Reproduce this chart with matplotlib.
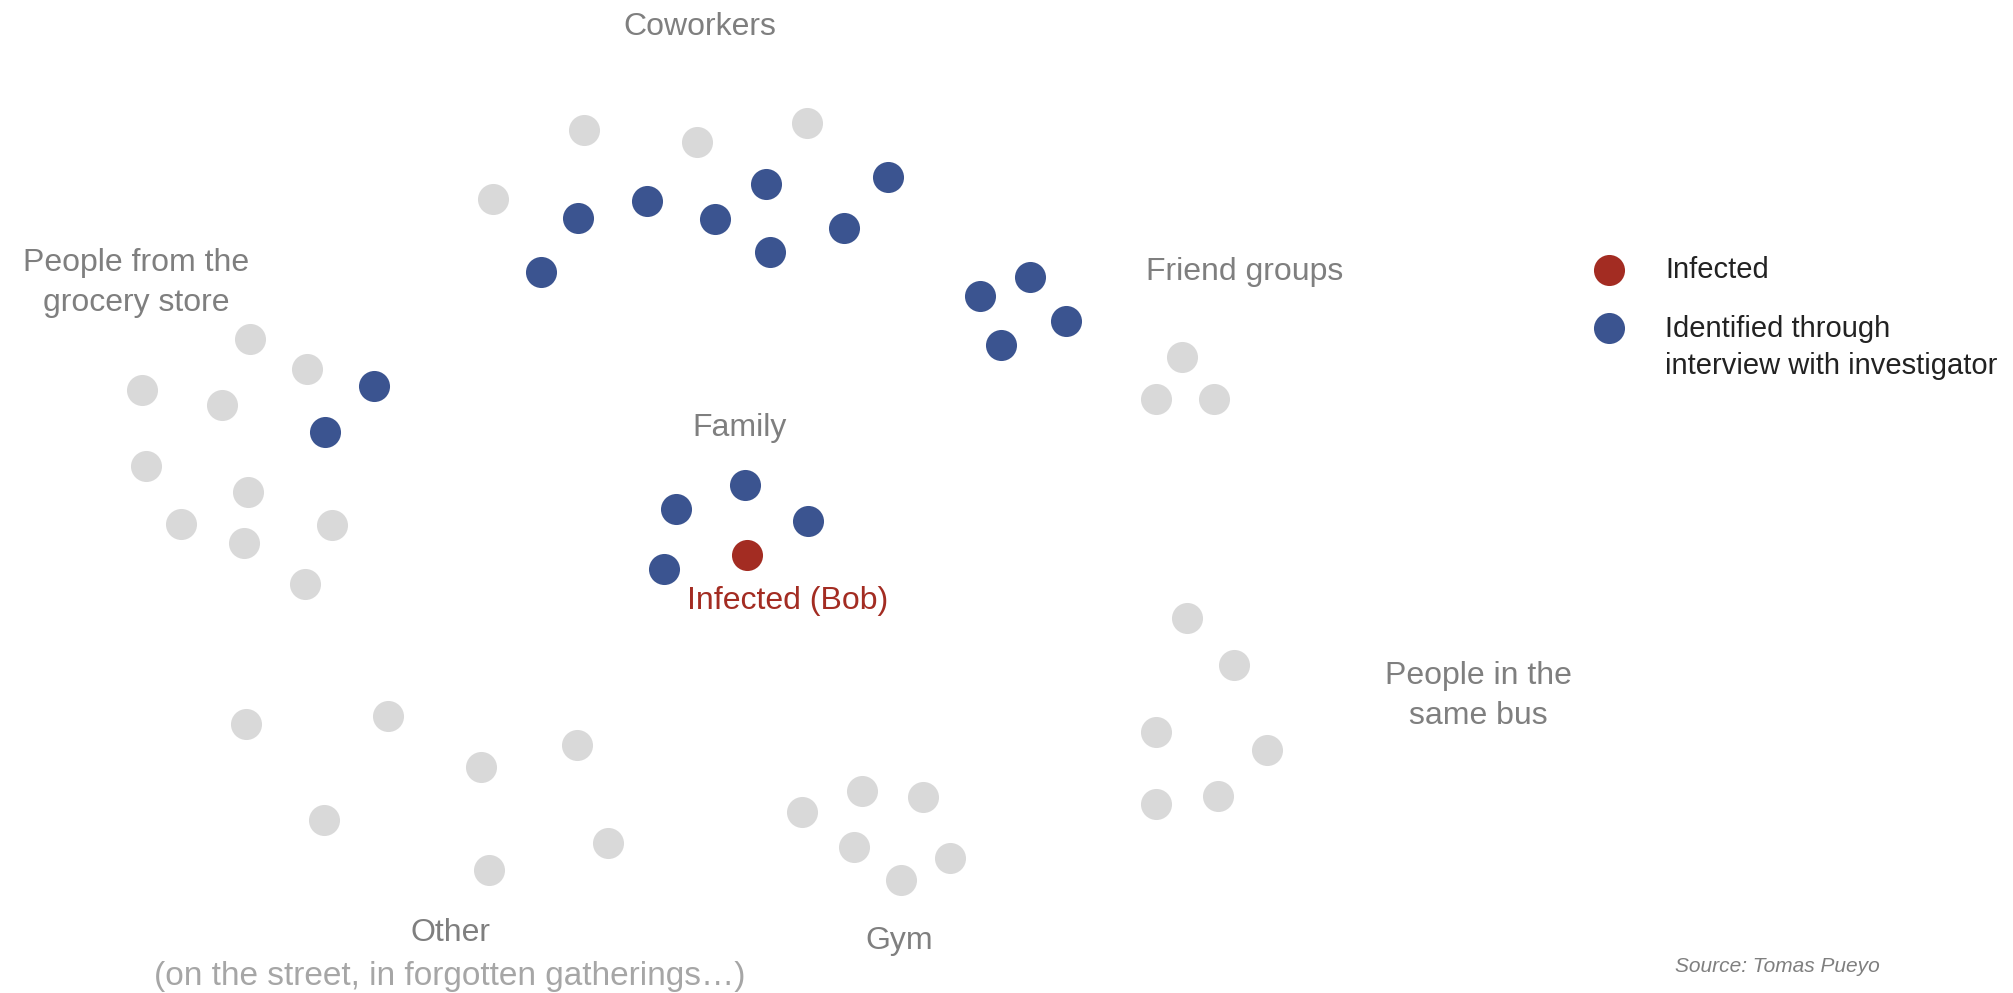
import matplotlib
matplotlib.use("Agg")
import matplotlib.pyplot as plt

# ---- data (positions of people, in picture units) ----
coworkers_gray_x = [584, 697, 807, 493]
coworkers_gray_y = [130, 142, 123, 199]
coworkers_blue_x = [578, 647, 715, 766, 888, 844, 770, 541]
coworkers_blue_y = [218, 201, 219, 184, 177, 228, 252, 272]

friends_blue_x = [980, 1030, 1066, 1001]
friends_blue_y = [296, 277, 321, 345]
friends_gray_x = [1182, 1156, 1214]
friends_gray_y = [357, 399, 399]

grocery_gray_x = [250, 307, 142, 222, 146, 248, 181, 332, 244, 305]
grocery_gray_y = [339, 369, 390, 405, 466, 492, 524, 525, 543, 584]
grocery_blue_x = [374, 325]
grocery_blue_y = [386, 432]

family_blue_x = [745, 676, 808, 664]
family_blue_y = [485, 509, 521, 569]
infected_x = [747]
infected_y = [555]

other_gray_x = [246, 388, 481, 577, 324, 608, 489]
other_gray_y = [724, 716, 767, 745, 820, 843, 870]

gym_gray_x = [802, 862, 923, 854, 950, 901]
gym_gray_y = [812, 791, 797, 847, 858, 880]

bus_gray_x = [1187, 1234, 1156, 1267, 1156, 1218]
bus_gray_y = [618, 665, 732, 750, 804, 796]

group_labels = ["Coworkers", "People from the\ngrocery store", "Friend groups",
                "Family", "People in the\nsame bus", "Other", "Gym"]
group_label_x = [700, 136, 1245, 740, 1478, 450, 899]
group_label_y = [27, 283, 272, 428, 696, 933, 941]

legend_labels = ["Infected", "Identified through", "interview with investigator"]

GRAY = "#d9d9d9"
BLUE = "#3b5490"
RED = "#a32c22"
TEXT = "#7f7f7f"

plt.rcParams['font.family'] = ['Liberation Sans', 'DejaVu Sans']

fig = plt.figure(figsize=(20.13, 9.93), dpi=100)
ax = fig.add_axes([0, 0, 1, 1])
ax.set_xlim(0, 2013)
ax.set_ylim(993, 0)
ax.axis("off")

S = 500
gx = coworkers_gray_x + friends_gray_x + grocery_gray_x + other_gray_x + gym_gray_x + bus_gray_x
gy = coworkers_gray_y + friends_gray_y + grocery_gray_y + other_gray_y + gym_gray_y + bus_gray_y
ax.scatter(gx, gy, s=S, color=GRAY, linewidths=0)
bx = coworkers_blue_x + friends_blue_x + grocery_blue_x + family_blue_x
by = coworkers_blue_y + friends_blue_y + grocery_blue_y + family_blue_y
ax.scatter(bx, by, s=S, color=BLUE, linewidths=0)
ax.scatter(infected_x, infected_y, s=S, color=RED, linewidths=0)

for lab, x, y in zip(group_labels, group_label_x, group_label_y):
    ax.text(x, y, lab, ha="center", va="center", fontsize=23, color=TEXT,
            linespacing=1.45)

ax.text(450, 976, "(on the street, in forgotten gatherings…)", ha="center", va="center",
        fontsize=24, color="#a6a6a6")
ax.text(788, 601, "Infected (Bob)", ha="center", va="center", fontsize=23, color=RED)

# legend
ax.scatter([1609], [270], s=S, color=RED, linewidths=0)
ax.scatter([1609], [328], s=S, color=BLUE, linewidths=0)
ax.text(1665, 270, legend_labels[0], ha="left", va="center", fontsize=21, color="#222222")
ax.text(1665, 329, legend_labels[1], ha="left", va="center", fontsize=21, color="#222222")
ax.text(1665, 366, legend_labels[2], ha="left", va="center", fontsize=21, color="#222222")

ax.text(1880, 966, "Source: Tomas Pueyo", ha="right", va="center", fontsize=15,
        color="#7f7f7f", style="italic")

fig.savefig("out.png", dpi=100, facecolor="white")
